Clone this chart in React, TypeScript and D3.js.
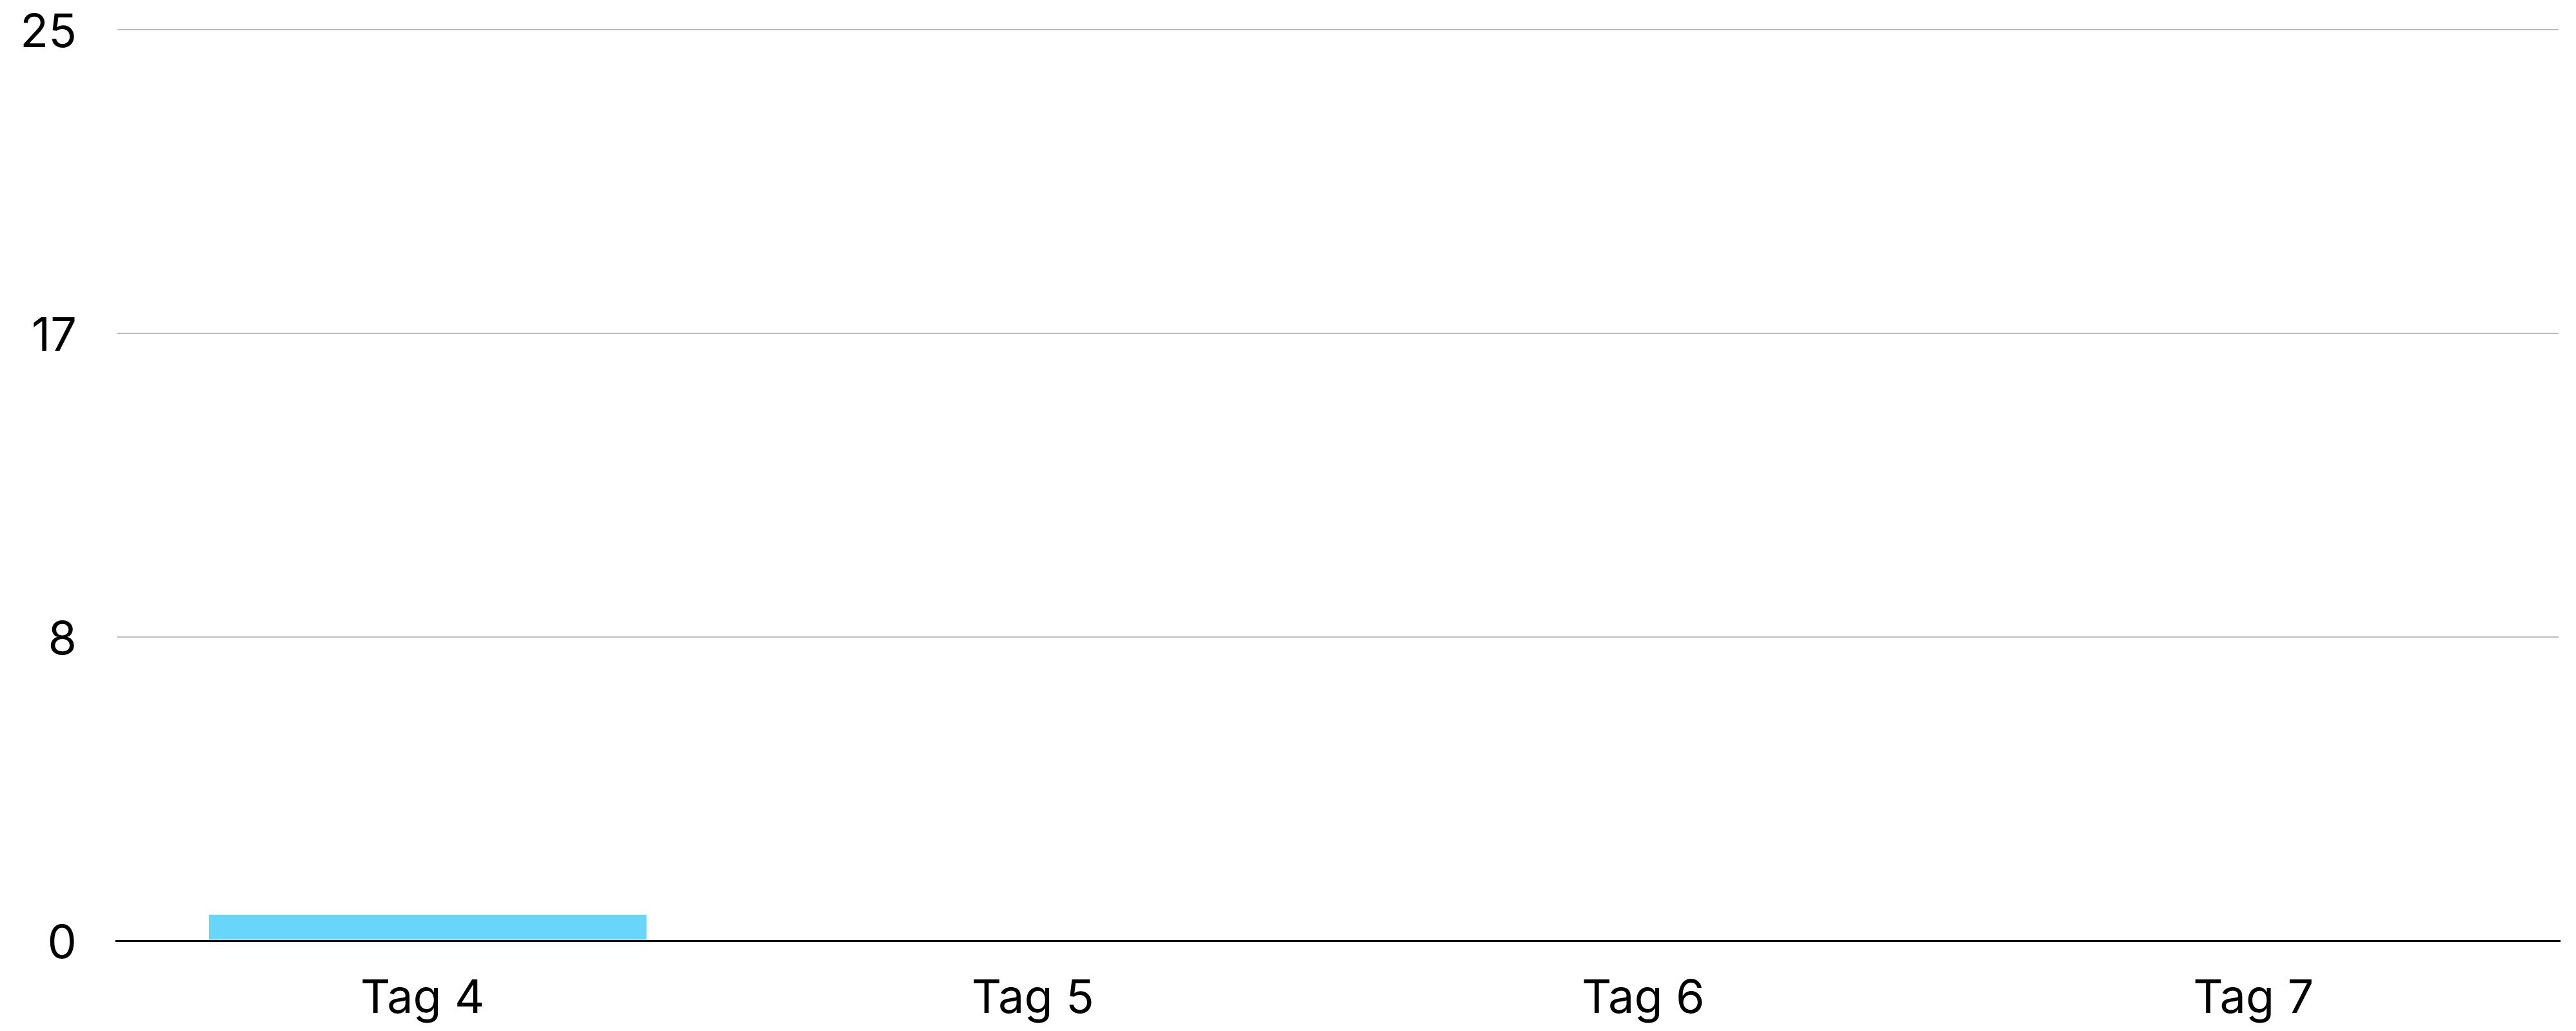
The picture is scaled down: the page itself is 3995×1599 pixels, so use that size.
import React, { useEffect } from "react";
import * as d3 from "d3";

const categories: string[] = ["Tag 4", "Tag 5", "Tag 6", "Tag 7"];
const values: number[] = [0.72, 0, 0, 0];
const yMax = 25;
const tickValues: number[] = [0, 25 / 3, 50 / 3, 25];
const tickLabels: string[] = ["0", "8", "17", "25"];

const W = 3995;
const H = 1599;
const plotLeft = 182;
const plotRight = 3968;
const plotTop = 46;
const plotBottom = 1459.5;

export default function App() {
  useEffect(() => {
    document.body.style.margin = "0";
  }, []);

  const x = d3.scaleBand<string>().domain(categories).range([plotLeft, plotRight]).padding(0);
  const y = d3.scaleLinear().domain([0, yMax]).range([plotBottom, plotTop]);
  const step = x.step();
  const barOffset = step * 0.15;
  const barWidth = step * 0.717;

  return (
    <svg
      width={W}
      height={H}
      style={{ position: "absolute", left: 0, top: 0, background: "#fff" }}
      fontFamily="Inter, 'Noto Sans', sans-serif"
    >
      <rect x={0} y={0} width={W} height={H} fill="#ffffff" />
      {tickValues.map((t, i) =>
        i === 0 ? null : (
          <line
            key={"g" + i}
            x1={plotLeft}
            x2={plotRight}
            y1={Math.round(y(t))}
            y2={Math.round(y(t))}
            stroke="#bcbcbc"
            strokeWidth={2}
          />
        )
      )}
      {tickValues.map((t, i) => (
        <text
          key={"yl" + i}
          x={119}
          y={y(t)}
          textAnchor="end"
          dominantBaseline="central"
          fontSize={72}
          fill="#000"
        >
          {tickLabels[i]}
        </text>
      ))}
      {categories.map((c, i) => {
        const v = values[i];
        if (v <= 0) return null;
        return (
          <rect
            key={"b" + i}
            x={(x(c) as number) + barOffset}
            y={y(v)}
            width={barWidth}
            height={y(0) - y(v) - 2}
            fill="#68d5fa"
          />
        );
      })}
      <line x1={plotLeft - 3} x2={plotRight + 3} y1={y(0)} y2={y(0)} stroke="#000" strokeWidth={3} />
      {categories.map((c, i) => (
        <text
          key={"xl" + i}
          x={(x(c) as number) + step / 2}
          y={1571}
          textAnchor="middle"
          fontSize={72}
          fill="#000"
        >
          {c}
        </text>
      ))}
    </svg>
  );
}
